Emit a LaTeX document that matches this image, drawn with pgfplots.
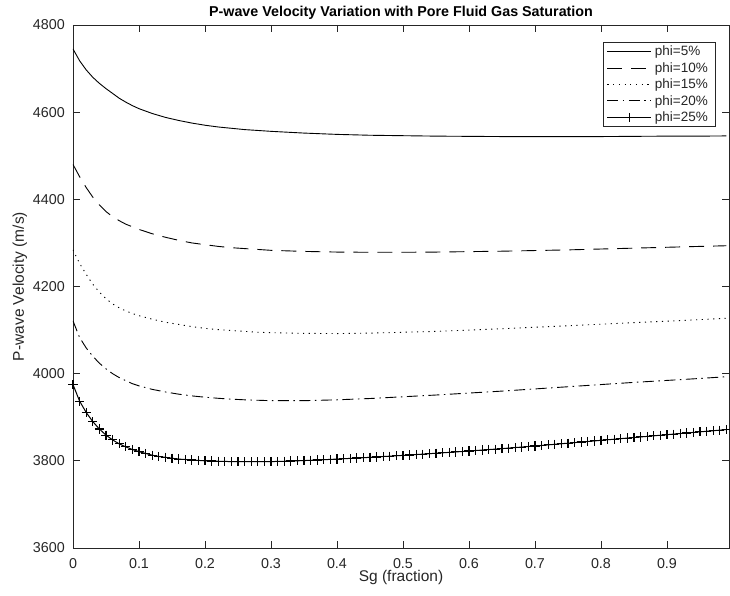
\documentclass[border=0pt]{standalone}
\usepackage{fontspec}
\setmainfont{Liberation Sans}
\usepackage{pgfplots}
\pgfplotsset{compat=1.18}
\usepackage{pgfplotstable}
\definecolor{axgray}{gray}{0.15}

\pgfplotstableread{
x y
0 4745
0.01 4718
0.02 4697
0.03 4680
0.04 4666
0.05 4654
0.06 4643
0.07 4632
0.08 4623
0.09 4615
0.10 4608
0.12 4597
0.14 4588
0.16 4581
0.18 4575
0.20 4570
0.22 4566
0.24 4563
0.26 4560
0.28 4558
0.30 4556
0.35 4552
0.40 4549
0.45 4547
0.50 4546
0.55 4545
0.60 4544.5
0.65 4544
0.70 4544
0.75 4544
0.80 4544
0.85 4544.5
0.90 4545
0.95 4545
0.99 4545.5
}\phifive

\pgfplotstableread{
x y
0 4480
0.01 4452
0.02 4427
0.03 4405
0.04 4387
0.05 4372
0.06 4360
0.07 4351
0.08 4343
0.09 4337
0.10 4331
0.12 4321
0.14 4313
0.16 4306
0.18 4300
0.20 4296
0.22 4292
0.24 4289
0.26 4287
0.28 4285
0.30 4283
0.35 4280.5
0.40 4279
0.45 4278.5
0.50 4278.5
0.55 4279
0.60 4280
0.65 4281
0.70 4282.5
0.75 4284
0.80 4286
0.85 4288
0.90 4290
0.95 4292
0.99 4293.5
}\phiten

\pgfplotstableread{
x y
0 4284
0.01 4253
0.02 4228
0.03 4205
0.04 4187
0.05 4172
0.06 4160
0.07 4151
0.08 4144
0.09 4138
0.10 4133
0.12 4125
0.14 4118
0.16 4113
0.18 4108
0.20 4104
0.22 4101
0.24 4099
0.26 4097
0.28 4095
0.30 4094
0.35 4092.5
0.40 4092
0.45 4093
0.50 4095
0.55 4097
0.60 4100
0.65 4103
0.70 4106.5
0.75 4110
0.80 4113.5
0.85 4117
0.90 4120.5
0.95 4124
0.99 4127
}\phififteen

\pgfplotstableread{
x y
0 4121
0.01 4083
0.02 4059
0.03 4040
0.04 4024
0.05 4011
0.06 4000
0.07 3991
0.08 3984
0.09 3977
0.10 3972
0.12 3964
0.14 3958
0.16 3953
0.18 3949
0.20 3946
0.22 3943.5
0.24 3941.5
0.26 3940
0.28 3939
0.30 3938
0.35 3938
0.40 3940
0.45 3943
0.50 3947
0.55 3951
0.60 3955.5
0.65 3960
0.70 3965
0.75 3970
0.80 3975
0.85 3980
0.90 3984.5
0.95 3989
0.99 3993
}\phitwenty

\pgfplotstableread{
x y
0 3975
0.01 3937
0.02 3911
0.03 3890
0.04 3873
0.05 3859
0.06 3848
0.07 3839
0.08 3832
0.09 3826
0.10 3821
0.11 3817
0.12 3813
0.13 3810
0.14 3808
0.15 3806
0.16 3804
0.17 3803
0.18 3802
0.19 3801
0.20 3800
0.21 3799.5
0.22 3799
0.23 3798.6
0.24 3798.3
0.25 3798.1
0.26 3798
0.27 3798
0.28 3798
0.29 3798.1
0.30 3798.3
0.31 3798.6
0.32 3799
0.33 3799.5
0.34 3800
0.35 3800.6
0.36 3801.2
0.37 3801.9
0.38 3802.6
0.39 3803.3
0.40 3804
0.41 3804.8
0.42 3805.6
0.43 3806.4
0.44 3807.2
0.45 3808
0.46 3808.9
0.47 3809.8
0.48 3810.7
0.49 3811.6
0.50 3812.5
0.51 3813.4
0.52 3814.4
0.53 3815.4
0.54 3816.4
0.55 3817.4
0.56 3818.4
0.57 3819.4
0.58 3820.4
0.59 3821.4
0.60 3822.5
0.61 3823.6
0.62 3824.7
0.63 3825.8
0.64 3826.9
0.65 3828
0.66 3829.2
0.67 3830.4
0.68 3831.6
0.69 3832.8
0.70 3834
0.71 3835.3
0.72 3836.6
0.73 3837.9
0.74 3839.2
0.75 3840.5
0.76 3841.8
0.77 3843.1
0.78 3844.4
0.79 3845.7
0.80 3847
0.81 3848.3
0.82 3849.6
0.83 3850.9
0.84 3852.2
0.85 3853.5
0.86 3854.8
0.87 3856.1
0.88 3857.4
0.89 3858.7
0.90 3860
0.91 3861.3
0.92 3862.6
0.93 3863.9
0.94 3865.2
0.95 3866.5
0.96 3867.8
0.97 3869.1
0.98 3870.4
0.99 3871.7
}\phitwentyfive

\begin{document}
\begin{tikzpicture}
\begin{axis}[
  scale only axis,
  width=656pt, height=523pt,
  xmin=0, xmax=0.994,
  ymin=3600, ymax=4800,
  xtick={0,0.1,0.2,0.3,0.4,0.5,0.6,0.7,0.8,0.9},
  xticklabels={0,0.1,0.2,0.3,0.4,0.5,0.6,0.7,0.8,0.9},
  ytick={3600,3800,4000,4200,4400,4600,4800},
  yticklabels={3600,3800,4000,4200,4400,4600,4800},
  scaled ticks=false,
  /pgf/number format/assume math mode=true,
  tick align=inside,
  major tick length=7pt,
  axis line style={axgray, line width=0.7pt},
  every tick/.style={axgray, line width=0.7pt},
  tick label style={font=\fontsize{14.3}{16}\selectfont, text=axgray},
  xticklabel style={inner sep=0pt, yshift=-10pt},
  yticklabel style={inner sep=0pt, xshift=-8pt},
  every axis title shift=0pt,
  title={\textbf{P-wave Velocity Variation with Pore Fluid Gas Saturation}},
  title style={at={(axis description cs:0.5,1.0153)}, anchor=base, font=\fontsize{14.3}{16}\selectfont, text=black, inner sep=0pt},
  xlabel={Sg (fraction)},
  xlabel style={at={(axis description cs:0.5,-0.065)}, anchor=base, font=\fontsize{15.5}{17}\selectfont, text=axgray, inner sep=0pt},
  ylabel={P-wave Velocity (m/s)},
  ylabel style={at={(axis description cs:-0.0747,0.5)}, anchor=base, rotate=0, font=\fontsize{15.5}{17}\selectfont, text=axgray, inner sep=0pt},
  legend image code/.code={\draw[mark repeat=2,mark phase=2,#1] plot coordinates {(0pt,0pt) (22pt,0pt) (44pt,0pt)};},
  legend style={at={(axis description cs:0.979,0.9675)}, anchor=north east, draw=axgray, line width=0.7pt, font=\fontsize{13.5}{15}\selectfont, text=axgray, inner xsep=4pt, inner ysep=3.5pt, row sep=5.2pt, nodes={inner xsep=3pt, inner ysep=0pt}},
  legend cell align=left,
]
\addplot[black, line width=0.9pt] table {\phifive};
\addlegendentry{phi=5\%}
\addplot[black, line width=0.9pt, dash pattern=on 15pt off 9pt] table {\phiten};
\addlegendentry{phi=10\%}
\addplot[black, line width=0.9pt, dash pattern=on 1.2pt off 4.5pt] table {\phififteen};
\addlegendentry{phi=15\%}
\addplot[black, line width=0.9pt, dash pattern=on 11pt off 4.5pt on 1.5pt off 4.5pt] table {\phitwenty};
\addlegendentry{phi=20\%}
\addplot[black, line width=1pt, mark=+, mark size=4.6pt, mark options={line width=1.1pt, solid}] table {\phitwentyfive};
\addlegendentry{phi=25\%}
\end{axis}
\pgfresetboundingbox
\path[use as bounding box] (current axis.south west) ++(-73pt,-48pt) rectangle ++(730pt,596pt);
\end{tikzpicture}
\end{document}
